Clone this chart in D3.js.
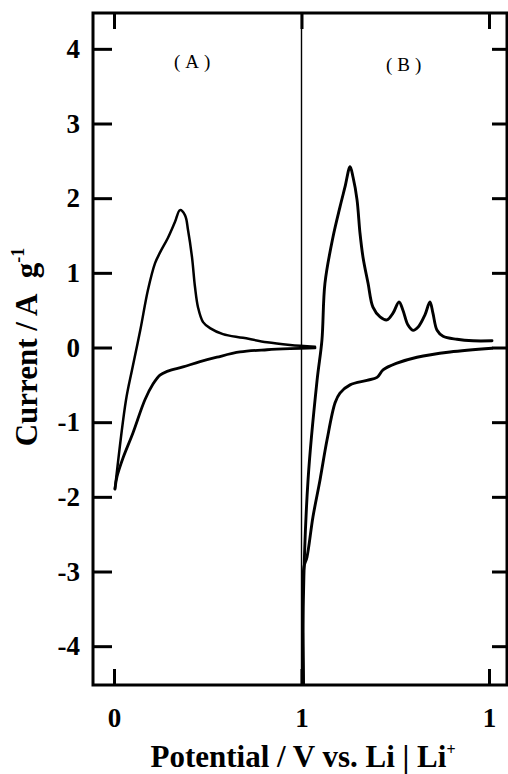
<!DOCTYPE html>
<html><head><meta charset="utf-8">
<script src="https://cdn.jsdelivr.net/npm/d3@7"></script>
<style>html,body{margin:0;padding:0;background:#fff;}svg{display:block;}</style>
</head><body>
<svg id="chart" width="508" height="774"></svg>
<script>
// ---- data ----
const xTickValues = [0, 1, 2];
const xTickLabels = ["0", "1", "1"];
const yTickValues = [-4, -3, -2, -1, 0, 1, 2, 3, 4];
const yTickLabels = ["-4", "-3", "-2", "-1", "0", "1", "2", "3", "4"];
const panelLabels = ["(A)", "(B)"];
const panelLabelPotential = [0.42, 1.547];   // on the combined axis
const panelLabelCurrent = [3.82, 3.79];
const dividerPotential = 1;

// Panel A: [potential / V, current / A g-1]
const panelA_anodic = [
  [0.005,-1.895],[0.064,-0.703],[0.096,-0.30],[0.140,0.23],[0.181,0.77],[0.219,1.13],
  [0.245,1.27],[0.288,1.47],[0.325,1.68],[0.352,1.84],[0.379,1.77],[0.395,1.57],
  [0.416,1.21],[0.432,0.81],[0.448,0.54],[0.475,0.34],[0.512,0.26],[0.581,0.18],
  [0.688,0.13],[0.816,0.07],[0.939,0.035],[1.072,0.01]
];
const panelA_cathodic = [
  [1.072,-0.005],[0.939,-0.015],[0.816,-0.03],[0.672,-0.06],[0.549,-0.13],[0.459,-0.19],
  [0.368,-0.26],[0.283,-0.32],[0.245,-0.37],[0.208,-0.49],[0.165,-0.70],[0.101,-1.145],
  [0.048,-1.48],[0.016,-1.73],[0.005,-1.895]
];
// Panel B: [potential relative to the divider / V, current / A g-1]
const panelB_anodic = [
  [0.011,-4.6],[0.010,-3.38],[0.035,-1.77],[0.083,-0.44],[0.109,0.10],[0.125,0.86],
  [0.168,1.48],[0.205,1.88],[0.232,2.15],[0.259,2.42],[0.275,2.28],[0.296,1.98],
  [0.312,1.53],[0.328,1.21],[0.355,0.86],[0.381,0.54],[0.419,0.41],[0.456,0.37],
  [0.488,0.46],[0.520,0.61],[0.541,0.50],[0.568,0.30],[0.595,0.23],[0.621,0.27],
  [0.659,0.44],[0.685,0.61],[0.701,0.46],[0.723,0.23],[0.755,0.15],[0.829,0.11],
  [0.915,0.09],[1.016,0.09]
];
const panelB_cathodic = [
  [1.016,-0.01],[0.792,-0.06],[0.616,-0.13],[0.509,-0.21],[0.435,-0.30],[0.403,-0.40],
  [0.349,-0.44],[0.259,-0.50],[0.205,-0.61],[0.179,-0.74],[0.136,-1.24],[0.099,-1.77],
  [0.061,-2.27],[0.029,-2.81],[0.013,-2.94],[0.011,-4.6]
];

// ---- layout ----
const svg = d3.select("#chart");
const L = 93, R = 507, T = 13, B = 685;
const x = d3.scaleLinear().domain([0, 2]).range([114, 489]);
const xA = x;
const xB = x.copy().domain([-1, 1]); // panel B potentials offset by the divider
const y = d3.scaleLinear().domain([-4.52, 4.48]).range([B, T]);
const font = "'Liberation Serif','Times New Roman',serif";

svg.append("defs").append("clipPath").attr("id", "clip")
  .append("rect").attr("x", L).attr("y", T).attr("width", R - L).attr("height", B - T);

// divider
svg.append("line")
  .attr("x1", x(dividerPotential)).attr("x2", x(dividerPotential))
  .attr("y1", T).attr("y2", B)
  .attr("stroke", "#000").attr("stroke-width", 1.4);

// curves
const lineA = d3.line().x(d => xA(d[0])).y(d => y(d[1])).curve(d3.curveCatmullRom.alpha(0.5));
const lineB = d3.line().x(d => xB(d[0])).y(d => y(d[1])).curve(d3.curveCatmullRom.alpha(0.5));
const g = svg.append("g").attr("clip-path", "url(#clip)");
[[panelA_anodic, lineA, 2.5], [panelA_cathodic, lineA, 2.8],
 [panelB_anodic, lineB, 2.9], [panelB_cathodic, lineB, 2.9]].forEach(([data, ln, w]) => {
  g.append("path").datum(data).attr("d", ln)
    .attr("fill", "none").attr("stroke", "#000").attr("stroke-width", w)
    .attr("stroke-linejoin", "round").attr("stroke-linecap", "round");
});

// axes
const axStyle = sel => {
  sel.select(".domain").remove();
  sel.selectAll(".tick line").attr("stroke", "#000").attr("stroke-width", 3);
  sel.selectAll("text").attr("font-family", font).attr("font-weight", "bold")
    .attr("font-size", 27).attr("fill", "#000");
};
svg.append("g").attr("transform", `translate(${L},0)`)
  .call(d3.axisLeft(y).tickValues(yTickValues).tickSize(-19).tickPadding(13)
    .tickFormat((d, i) => yTickLabels[i]))
  .call(axStyle);
svg.append("g").attr("transform", `translate(${R},0)`)
  .call(d3.axisRight(y).tickValues(yTickValues).tickSize(-15).tickFormat(""))
  .call(axStyle);
svg.append("g").attr("transform", `translate(0,${B})`)
  .call(d3.axisBottom(x).tickValues(xTickValues).tickSize(-16).tickPadding(23)
    .tickFormat((d, i) => xTickLabels[i]))
  .call(axStyle);
svg.append("g").attr("transform", `translate(0,${T})`)
  .call(d3.axisTop(x).tickValues(xTickValues).tickSize(-16).tickFormat(""))
  .call(axStyle);

// frame
svg.append("rect").attr("x", L).attr("y", T).attr("width", R - L).attr("height", B - T)
  .attr("fill", "none").attr("stroke", "#000").attr("stroke-width", 3);

// panel labels
svg.selectAll(".plabel").data(panelLabels).enter().append("text")
  .attr("class", "plabel")
  .attr("x", (d, i) => x(panelLabelPotential[i]) + 2)
  .attr("y", (d, i) => y(panelLabelCurrent[i]) + 6)
  .attr("text-anchor", "middle")
  .attr("font-family", font).attr("font-size", 19).attr("letter-spacing", 5)
  .text(d => d);

// axis titles
const yl = svg.append("text")
  .attr("transform", "translate(37,347) rotate(-90)")
  .attr("text-anchor", "middle")
  .attr("font-family", font).attr("font-weight", "bold").attr("font-size", 31);
yl.append("tspan").text("Current / A\u2002g");
yl.append("tspan").attr("font-size", 18).attr("dy", -13).text("-1");

const xl = svg.append("text")
  .attr("x", 303).attr("y", 767)
  .attr("text-anchor", "middle")
  .attr("font-family", font).attr("font-weight", "bold").attr("font-size", 31);
xl.append("tspan").text("Potential / V vs. Li | Li");
xl.append("tspan").attr("font-size", 16).attr("dy", -12).text("+");
</script>
</body></html>
